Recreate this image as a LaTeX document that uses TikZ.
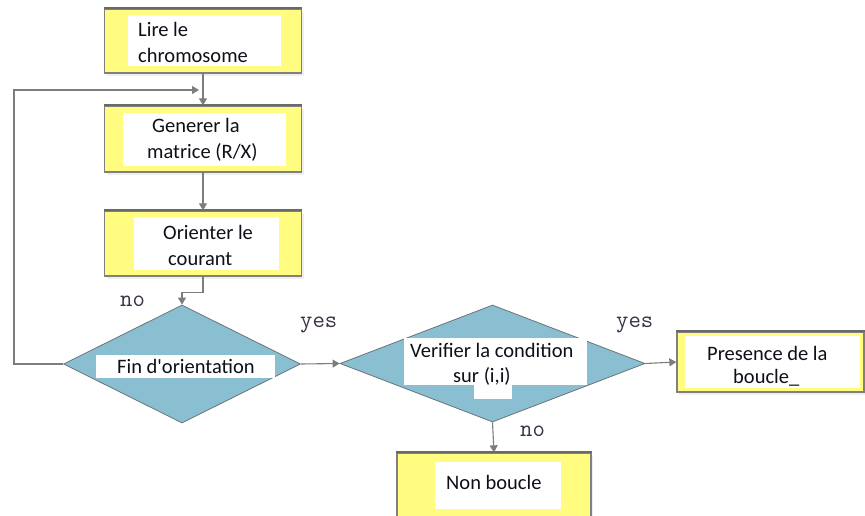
\documentclass[tikz,border=0pt]{standalone}
\usepackage{fontspec}
\setmainfont{Carlito}[Ligatures=TeXOff]
\usetikzlibrary{shapes.geometric,arrows.meta,shadows}
\definecolor{boxyellow}{RGB}{255,252,128}
\definecolor{boxedge}{RGB}{128,128,128}
\definecolor{boxtop}{RGB}{105,105,105}
\definecolor{decision}{RGB}{138,191,210}
\definecolor{decedge}{RGB}{105,115,120}
\definecolor{linkgray}{RGB}{125,125,125}
\definecolor{labelink}{RGB}{60,48,70}
\definecolor{textink}{RGB}{15,15,25}

\begin{document}
\begin{tikzpicture}[x=1pt,y=-1pt,
  stepbox/.style={draw=boxedge, line width=1.3pt, fill=boxyellow,
    inner sep=0pt, minimum width=197pt,
    drop shadow={shadow xshift=2pt, shadow yshift=-3pt, fill=black!12}},
  choice/.style={diamond, draw=decedge, line width=0.8pt, fill=decision,
    inner sep=0pt},
  txt/.style={font=\fontsize{20.5}{25}\selectfont, text=textink,
    inner sep=0pt, anchor=base west},
  lbl/.style={font=\ttfamily\fontsize{24}{24}\selectfont, text=labelink,
    inner sep=0pt, anchor=base west},
  link/.style={draw=linkgray, line width=1.1pt,
    -{Triangle[length=7pt,width=8pt]}},
  topedge/.style={draw=boxtop, line width=1.8pt}]

\useasboundingbox (0,0) rectangle (865,516);

% process boxes
\node[stepbox, minimum height=64pt] (b1) at (203,41) {};
\node[stepbox, minimum height=66pt] (b2) at (203,139) {};
\node[stepbox, minimum height=65pt] (b3) at (203,243.5) {};
\node[stepbox, minimum width=187pt, minimum height=60pt] (b4) at (770.5,362) {};
\node[stepbox, minimum width=194pt, minimum height=76pt] (b5) at (494,491) {};

% darker top edges of the boxes
\foreach \b in {b1,b2,b3,b4,b5}
  \draw[topedge] (\b.north west) -- (\b.north east);

% decisions
\node[choice, minimum width=237pt, minimum height=118pt] (d1) at (182,364) {};
\node[choice, minimum width=305pt, minimum height=117pt] (d2) at (492.5,363.5) {};

% white text pads
\fill[white] (128,15) rectangle (281,66);
\fill[white] (123,113) rectangle (286,166);
\fill[white] (134,217) rectangle (279,270);
\fill[white] (96,355) rectangle (275,378);
\fill[white] (404,338) rectangle (587,385);
\fill[white] (474,384) rectangle (512,399);
\fill[white] (685,336) rectangle (860,388);
\fill[white] (435,462) rectangle (561,509);

% texts
\node[txt] (t1a) at (138,37) {Lire le};
\node[txt] (t1b) at (138,63) {chromosome};
\node[txt] (t2a) at (152,133) {Generer la};
\node[txt] (t2b) at (147,159) {matrice (R/X)};
\node[txt] (t3a) at (163,239) {Orienter le};
\node[txt] (t3b) at (168,265) {courant};
\node[txt] (t4)  at (117,373) {Fin d'orientation};
\node[txt] (t5a) at (410,357) {Verifier la condition};
\node[txt] (t5b) at (453,382) {sur (i,i)};
\node[txt] (t6a) at (707,360) {Presence de la};
\node[txt] (t6b) at (733,383) {boucle\_};
\node[txt] (t7)  at (446,489) {Non boucle};

% connectors
\coordinate (loopin) at (199,90);
\coordinate (loopcorner) at (14,90);
\draw[link] (b1.south) -- (b2.north);
\draw[link] (b2.south) -- (b3.north);
\draw[link] (b3.south) -- ++(0,16) -| (d1.north);
\draw[link] (d1.west) -| (loopcorner) -- (loopin);
\draw[link] (d1.east) -- (d2.west);
\draw[link] (d2.east) -- (b4.west);
\draw[link] (d2.south) -- (b5.north);

% branch labels
\node[lbl] (no1)  at (120,306) {no};
\node[lbl] (yes1) at (300,327) {yes};
\node[lbl] (yes2) at (616,327) {yes};
\node[lbl] (no2)  at (520,436) {no};
\end{tikzpicture}
\end{document}
